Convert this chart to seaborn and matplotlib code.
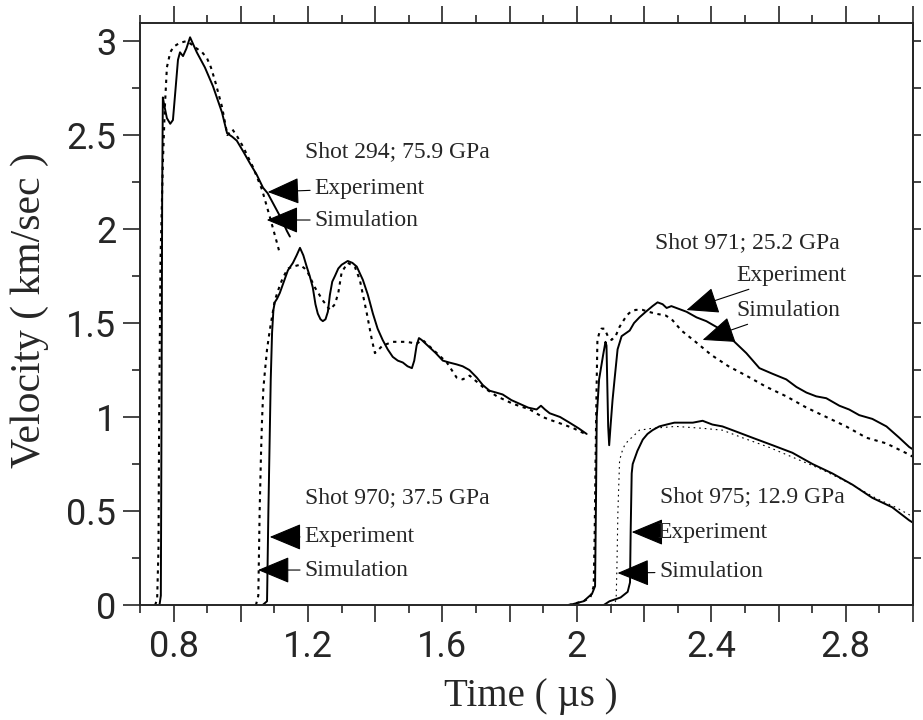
import numpy as np
import pandas as pd
import seaborn as sns
import matplotlib.pyplot as plt
from matplotlib.ticker import MultipleLocator

# ---- data (time in us, velocity in km/s) ----
t294_exp = [0.745, 0.758, 0.762, 0.764, 0.766, 0.768, 0.772, 0.780, 0.790, 0.798, 0.806, 0.813, 0.819,
            0.828, 0.838, 0.849, 0.859, 0.869, 0.893, 0.917, 0.944, 0.959, 0.975, 0.988, 1.008, 1.027,
            1.047, 1.066, 1.080, 1.095, 1.107, 1.122, 1.137, 1.146]
v294_exp = [0.0, 0.0, 0.05, 1.0, 2.2, 2.70, 2.66, 2.59, 2.56, 2.58, 2.75, 2.90, 2.94,
            2.92, 2.96, 3.02, 2.98, 2.94, 2.86, 2.76, 2.62, 2.51, 2.49, 2.47, 2.41, 2.35,
            2.29, 2.22, 2.19, 2.14, 2.10, 2.05, 1.99, 1.96]

t294_sim = [0.745, 0.751, 0.755, 0.757, 0.761, 0.768, 0.774, 0.780, 0.790, 0.800, 0.818, 0.839, 0.855,
            0.869, 0.885, 0.899, 0.911, 0.923, 0.944, 0.960, 0.975, 0.990, 1.006, 1.036, 1.063, 1.087,
            1.107, 1.116]
v294_sim = [0.0, 0.03, 0.3, 1.0, 1.83, 2.35, 2.65, 2.86, 2.94, 2.97, 2.99, 3.0, 2.98,
            2.96, 2.94, 2.91, 2.86, 2.79, 2.65, 2.50, 2.53, 2.49, 2.44, 2.33, 2.21, 2.06,
            1.93, 1.87]

t970_exp = [1.065, 1.078, 1.082, 1.086, 1.089, 1.093, 1.097, 1.101, 1.108, 1.116, 1.128, 1.140, 1.155,
            1.166, 1.176, 1.186, 1.196, 1.205, 1.214, 1.222, 1.229, 1.237, 1.244, 1.252, 1.259, 1.265,
            1.272, 1.280, 1.290, 1.300, 1.318, 1.332, 1.345, 1.363, 1.378, 1.393, 1.407, 1.422, 1.437,
            1.452, 1.467, 1.482, 1.496, 1.509, 1.516, 1.523, 1.530, 1.538, 1.550, 1.562, 1.580, 1.601,
            1.620, 1.642, 1.660, 1.680, 1.702, 1.720, 1.740, 1.760, 1.779, 1.805, 1.830, 1.855, 1.880,
            1.893, 1.905, 1.919, 1.950, 1.978, 2.005, 2.029]
v970_exp = [0.0, 0.02, 0.5, 0.9, 1.2, 1.45, 1.57, 1.61, 1.63, 1.66, 1.72, 1.78, 1.82,
            1.86, 1.90, 1.86, 1.80, 1.75, 1.69, 1.60, 1.55, 1.52, 1.51, 1.52, 1.56, 1.65,
            1.72, 1.75, 1.79, 1.81, 1.83, 1.82, 1.80, 1.73, 1.65, 1.55, 1.47, 1.41, 1.36,
            1.32, 1.30, 1.29, 1.27, 1.26, 1.30, 1.38, 1.42, 1.41, 1.39, 1.37, 1.34, 1.30,
            1.29, 1.28, 1.27, 1.25, 1.21, 1.17, 1.14, 1.13, 1.12, 1.09, 1.07, 1.05, 1.04,
            1.06, 1.04, 1.02, 1.00, 0.97, 0.94, 0.91]

t970_sim = [1.045, 1.052, 1.056, 1.060, 1.063, 1.067, 1.071, 1.078, 1.086, 1.101, 1.116, 1.125, 1.140,
            1.155, 1.176, 1.190, 1.199, 1.220, 1.244, 1.265, 1.280, 1.290, 1.300, 1.318, 1.339, 1.354,
            1.375, 1.390, 1.399, 1.422, 1.452, 1.494, 1.523, 1.541, 1.583, 1.613, 1.642, 1.660, 1.681,
            1.720, 1.762, 1.810, 1.860, 1.898, 1.928, 1.960, 1.990, 2.025]
v970_sim = [0.0, 0.05, 0.5, 0.8, 0.98, 1.15, 1.23, 1.36, 1.46, 1.62, 1.70, 1.74, 1.79,
            1.80, 1.81, 1.79, 1.77, 1.69, 1.62, 1.57, 1.60, 1.66, 1.77, 1.82, 1.80, 1.73,
            1.55, 1.41, 1.34, 1.38, 1.40, 1.40, 1.39, 1.41, 1.34, 1.29, 1.21, 1.20, 1.22,
            1.16, 1.11, 1.07, 1.04, 1.00, 0.98, 0.96, 0.94, 0.91]

t971_exp = [1.978, 2.020, 2.045, 2.054, 2.057, 2.059, 2.066, 2.078, 2.085, 2.088, 2.093, 2.096, 2.100,
            2.106, 2.112, 2.121, 2.133, 2.157, 2.170, 2.186, 2.205, 2.225, 2.240, 2.255, 2.267, 2.281,
            2.296, 2.311, 2.326, 2.356, 2.385, 2.424, 2.463, 2.504, 2.543, 2.582, 2.623, 2.653, 2.683,
            2.712, 2.742, 2.781, 2.810, 2.840, 2.879, 2.921, 2.959, 2.989, 2.998]
v971_exp = [0.0, 0.02, 0.06, 0.10, 0.6, 1.0, 1.20, 1.33, 1.40, 1.38, 0.95, 0.85, 0.95,
            1.09, 1.20, 1.36, 1.43, 1.46, 1.50, 1.53, 1.56, 1.59, 1.61, 1.60, 1.58, 1.59,
            1.58, 1.57, 1.56, 1.53, 1.51, 1.47, 1.41, 1.34, 1.26, 1.23, 1.20, 1.16, 1.13,
            1.11, 1.10, 1.06, 1.04, 1.01, 0.99, 0.95, 0.89, 0.84, 0.83]

t971_sim = [1.975, 2.020, 2.040, 2.050, 2.053, 2.055, 2.058, 2.061, 2.067, 2.073, 2.082, 2.092, 2.103,
            2.115, 2.127, 2.148, 2.160, 2.175, 2.195, 2.213, 2.234, 2.264, 2.282, 2.311, 2.353, 2.400,
            2.451, 2.504, 2.564, 2.623, 2.683, 2.742, 2.801, 2.861, 2.920, 2.989, 2.998]
v971_sim = [0.0, 0.02, 0.04, 0.10, 0.40, 0.70, 1.10, 1.41, 1.45, 1.47, 1.47, 1.43, 1.41,
            1.43, 1.48, 1.54, 1.56, 1.57, 1.57, 1.56, 1.55, 1.54, 1.52, 1.46, 1.40, 1.33,
            1.27, 1.22, 1.16, 1.11, 1.05, 1.00, 0.95, 0.89, 0.86, 0.80, 0.79]

t975_exp = [2.080, 2.097, 2.130, 2.151, 2.158, 2.160, 2.163, 2.166, 2.180, 2.196, 2.210, 2.225, 2.245,
            2.267, 2.290, 2.314, 2.345, 2.374, 2.403, 2.433, 2.463, 2.522, 2.582, 2.641, 2.701, 2.760,
            2.820, 2.879, 2.938, 2.989, 2.998]
v975_exp = [0.0, 0.02, 0.04, 0.07, 0.12, 0.4, 0.7, 0.75, 0.82, 0.88, 0.91, 0.93, 0.95,
            0.96, 0.97, 0.97, 0.97, 0.98, 0.96, 0.95, 0.93, 0.89, 0.85, 0.81, 0.75, 0.70,
            0.64, 0.57, 0.52, 0.45, 0.44]

t975_sim = [2.100, 2.115, 2.117, 2.119, 2.122, 2.127, 2.135, 2.142, 2.155, 2.163, 2.186, 2.225, 2.294,
            2.374, 2.433, 2.492, 2.570, 2.650, 2.730, 2.808, 2.888, 2.948, 2.989, 2.998]
v975_sim = [0.0, 0.02, 0.05, 0.2, 0.5, 0.77, 0.82, 0.85, 0.88, 0.89, 0.93, 0.94, 0.95,
            0.94, 0.93, 0.89, 0.84, 0.78, 0.72, 0.65, 0.57, 0.52, 0.48, 0.47]

shot_labels = ['Shot 294; 75.9 GPa', 'Shot 970; 37.5 GPa', 'Shot 971; 25.2 GPa', 'Shot 975; 12.9 GPa']
xtick_vals = [0.8, 1.0, 1.2, 1.4, 1.6, 1.8, 2.0, 2.2, 2.4, 2.6, 2.8, 3.0]
xtick_labels = ['0.8', '', '1.2', '', '1.6', '', '2', '', '2.4', '', '2.8', '']
ytick_vals = [0, 0.5, 1, 1.5, 2, 2.5, 3]
ytick_labels = ['0', '0.5', '1', '1.5', '2', '2.5', '3']

# ---- style ----
sns.set_style('ticks')
serif = 'Liberation Serif'
tick_font = 'Roboto'
plt.rcParams['font.family'] = [serif, 'DejaVu Sans']
plt.rcParams['axes.linewidth'] = 1.4

fig = plt.figure(figsize=(9.23, 7.2), dpi=100)
ax = fig.add_axes([140 / 923, 115 / 720, 773 / 923, 582 / 720])

solid = dict(color='black', lw=1.4)
dashed = dict(color='black', lw=1.5, linestyle=(0, (1.6, 2.2)))
faint = dict(color='black', lw=0.8, linestyle=(0, (1.5, 3.5)))

curves = [
    (t294_exp, v294_exp, solid), (t294_sim, v294_sim, dashed),
    (t970_exp, v970_exp, solid), (t970_sim, v970_sim, dashed),
    (t971_exp, v971_exp, solid), (t971_sim, v971_sim, dashed),
    (t975_exp, v975_exp, solid), (t975_sim, v975_sim, faint),
]
for t, v, kw in curves:
    df = pd.DataFrame({'t': t, 'v': v})
    sns.lineplot(data=df, x='t', y='v', ax=ax, estimator=None, sort=False, **kw)

ax.set_xlim(0.7, 3.0)
ax.set_ylim(0, 3.096)
ax.set_xticks(xtick_vals)
ax.set_xticklabels(xtick_labels)
ax.set_yticks(ytick_vals)
ax.set_yticklabels(ytick_labels)
ax.xaxis.set_minor_locator(MultipleLocator(0.1))
ax.yaxis.set_minor_locator(MultipleLocator(0.25))
ax.tick_params(which='major', direction='out', length=12, width=1.2, top=True, right=False,
               labelsize=26, pad=5)
ax.tick_params(which='minor', direction='out', length=6, width=1.2, top=True, right=False)
for lab in ax.get_xticklabels() + ax.get_yticklabels():
    lab.set_family(tick_font)

sec = ax.secondary_yaxis('right')
sec.set_yticks(np.arange(0.25, 3.01, 0.25))
sec.tick_params(direction='out', length=6, width=1.2, labelright=False)

ax.set_xlabel('Time ( \u00b5s )', fontsize=28, family=serif)
ax.set_ylabel('Velocity ( km/sec )', fontsize=30, family=serif)
ax.xaxis.set_label_coords(0.505, -0.125)
ax.yaxis.set_label_coords(-0.118, 0.507)

# ---- annotations ----
fs = 17
arrow = dict(arrowstyle='-|>,head_length=1.2,head_width=0.5', color='black', lw=0.8,
             shrinkA=1, shrinkB=0)
ax.text(1.190, 2.41, shot_labels[0], fontsize=fs, va='center', ha='left')
ax.annotate('Experiment', xy=(1.080, 2.197), xytext=(1.220, 2.218), fontsize=fs,
            va='center', ha='left', arrowprops=arrow)
ax.annotate('Simulation', xy=(1.077, 2.048), xytext=(1.220, 2.048), fontsize=fs,
            va='center', ha='left', arrowprops=arrow)

ax.text(2.231, 1.93, shot_labels[2], fontsize=fs, va='center', ha='left')
ax.annotate('Experiment', xy=(2.326, 1.569), xytext=(2.475, 1.755), fontsize=fs,
            va='center', ha='left', arrowprops=arrow)
ax.annotate('Simulation', xy=(2.374, 1.410), xytext=(2.475, 1.569), fontsize=fs,
            va='center', ha='left', arrowprops=arrow)

ax.text(1.190, 0.569, shot_labels[1], fontsize=fs, va='center', ha='left')
ax.annotate('Experiment', xy=(1.086, 0.362), xytext=(1.190, 0.362), fontsize=fs,
            va='center', ha='left', arrowprops=arrow)
ax.annotate('Simulation', xy=(1.051, 0.186), xytext=(1.190, 0.186), fontsize=fs,
            va='center', ha='left', arrowprops=arrow)

ax.text(2.246, 0.574, shot_labels[3], fontsize=fs, va='center', ha='left')
ax.annotate('Experiment', xy=(2.163, 0.388), xytext=(2.240, 0.388), fontsize=fs,
            va='center', ha='left', arrowprops=arrow)
ax.annotate('Simulation', xy=(2.121, 0.170), xytext=(2.246, 0.176), fontsize=fs,
            va='center', ha='left', arrowprops=arrow)

fig.savefig('out.png', dpi=100)
